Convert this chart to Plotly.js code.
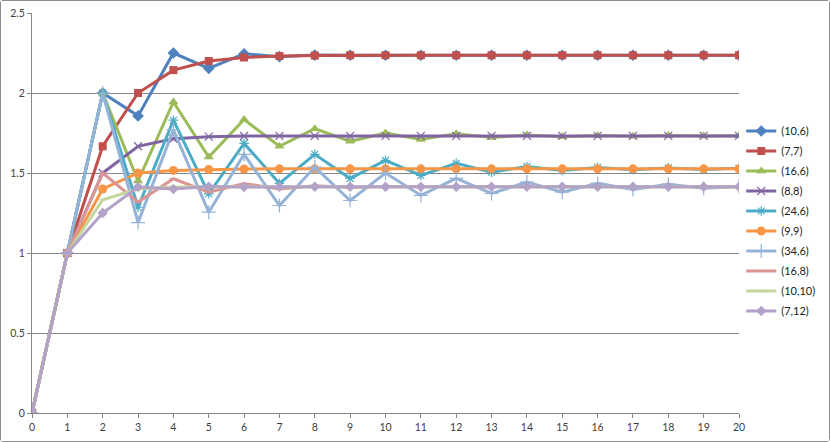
<!DOCTYPE html>
<html>
<head>
<meta charset="utf-8">
<script src="https://cdn.plot.ly/plotly-3.0.1.min.js"></script>
<style>
  html, body { margin: 0; padding: 0; background: #fff; }
  #chart { width: 828px; height: 440px; border: 1px solid #8c8c8c; border-radius: 3px; }
</style>
</head>
<body>
<div id="chart"></div>
<script>
const xs = [0,1,2,3,4,5,6,7,8,9,10,11,12,13,14,15,16,17,18,19,20];

const names = ["(10,6)","(7,7)","(16,6)","(8,8)","(24,6)","(9,9)","(34,6)","(16,8)","(10,10)","(7,12)"];

const s10_6  = [0,1,2,1.857,2.25,2.154,2.245,2.227,2.237,2.236,2.236,2.236,2.236,2.236,2.236,2.236,2.236,2.236,2.236,2.236,2.236];
const s7_7   = [0,1,1.667,2,2.143,2.2,2.222,2.231,2.234,2.236,2.236,2.236,2.236,2.236,2.236,2.236,2.236,2.236,2.236,2.236,2.236];
const s16_6  = [0,1,2,1.45,1.944,1.6,1.834,1.667,1.777,1.698,1.75,1.71,1.746,1.722,1.738,1.727,1.735,1.729,1.734,1.731,1.733];
const s8_8   = [0,1,1.5,1.667,1.714,1.727,1.731,1.732,1.732,1.732,1.732,1.732,1.732,1.732,1.732,1.732,1.732,1.732,1.732,1.732,1.732];
const s24_6  = [0,1,2,1.286,1.83,1.37,1.685,1.435,1.617,1.466,1.579,1.485,1.56,1.505,1.541,1.516,1.535,1.52,1.532,1.522,1.529];
const s9_9   = [0,1,1.4,1.5,1.516,1.522,1.525,1.526,1.526,1.526,1.526,1.526,1.526,1.526,1.526,1.526,1.526,1.526,1.526,1.526,1.526];
const s34_6  = [0,1,2,1.19,1.77,1.255,1.617,1.297,1.537,1.328,1.5,1.36,1.466,1.372,1.443,1.38,1.435,1.397,1.43,1.405,1.416];
const s16_8  = [0,1,1.5,1.318,1.464,1.38,1.434,1.4,1.42,1.41,1.416,1.413,1.414,1.414,1.414,1.414,1.414,1.414,1.414,1.414,1.414];
const s10_10 = [0,1,1.333,1.4,1.412,1.414,1.414,1.414,1.414,1.414,1.414,1.414,1.414,1.414,1.414,1.414,1.414,1.414,1.414,1.414,1.414];
const s7_12  = [0,1,1.25,1.412,1.4,1.415,1.412,1.414,1.414,1.414,1.414,1.414,1.414,1.414,1.414,1.414,1.414,1.414,1.414,1.414,1.414];

const yTickVals = [0,0.5,1,1.5,2,2.5];
const yTickText = ["0","0.5","1","1.5","2","2.5"];

const series = [s10_6, s7_7, s16_6, s8_8, s24_6, s9_9, s34_6, s16_8, s10_10, s7_12];
const colors = ["#4F81BD","#C0504D","#9BBB59","#8064A2","#4BACC6","#F79646","#95B3D7","#D99694","#C3D69B","#B3A2C7"];
const markers = [
  {symbol:"diamond", size:9},
  {symbol:"square", size:8},
  {symbol:"triangle-up", size:9},
  {symbol:"x-thin-open", size:8, line:{width:1.2}},
  {symbol:"asterisk-open", size:8, line:{width:1.2}},
  {symbol:"circle", size:9},
  {symbol:"cross-thin-open", size:10, line:{width:1.2}},
  {symbol:"line-ew-open", size:6, line:{width:1}},
  {symbol:"line-ew-open", size:6, line:{width:1}},
  {symbol:"diamond", size:8}
];

const traces = series.map((ys, i) => {
  const m = Object.assign({color: colors[i]}, markers[i]);
  if (m.line) m.line = Object.assign({color: colors[i]}, m.line);
  return {
    x: xs, y: ys, name: names[i], type: "scatter", mode: "lines+markers",
    legendgroup: "g" + i,
    line: {color: colors[i], width: 3},
    marker: m
  };
});

const font = {family: "Lato, 'Open Sans', sans-serif", size: 10.5, color: "#404040"};

const layout = {
  width: 828, height: 440,
  margin: {l: 31, r: 90, t: 12, b: 28, autoexpand: false},
  paper_bgcolor: "#ffffff", plot_bgcolor: "#ffffff",
  font: font,
  showlegend: true,
  legend: {
    xref: "container", yref: "container",
    x: 0.894, xanchor: "left", y: 0.5, yanchor: "middle",
    font: {family: "Lato, 'Open Sans', sans-serif", size: 11, color: "#222"},
    tracegroupgap: 1, bgcolor: "rgba(0,0,0,0)", borderwidth: 0
  },
  xaxis: {
    range: [0, 20], tickmode: "array", tickvals: xs, ticktext: xs.map(String),
    showgrid: false, zeroline: false, showline: true, linecolor: "#868686", linewidth: 1,
    ticks: "outside", ticklen: 4, tickcolor: "#868686", tickfont: font, automargin: false
  },
  yaxis: {
    range: [0, 2.5], tickmode: "array", tickvals: yTickVals, ticktext: yTickText,
    showgrid: true, gridcolor: "#868686", gridwidth: 1, zeroline: false,
    showline: true, linecolor: "#868686", linewidth: 1,
    ticks: "outside", ticklen: 4, tickcolor: "#868686", tickfont: font, automargin: false
  }
};

Plotly.newPlot("chart", traces, layout, {staticPlot: true, displayModeBar: false});
</script>
</body>
</html>
